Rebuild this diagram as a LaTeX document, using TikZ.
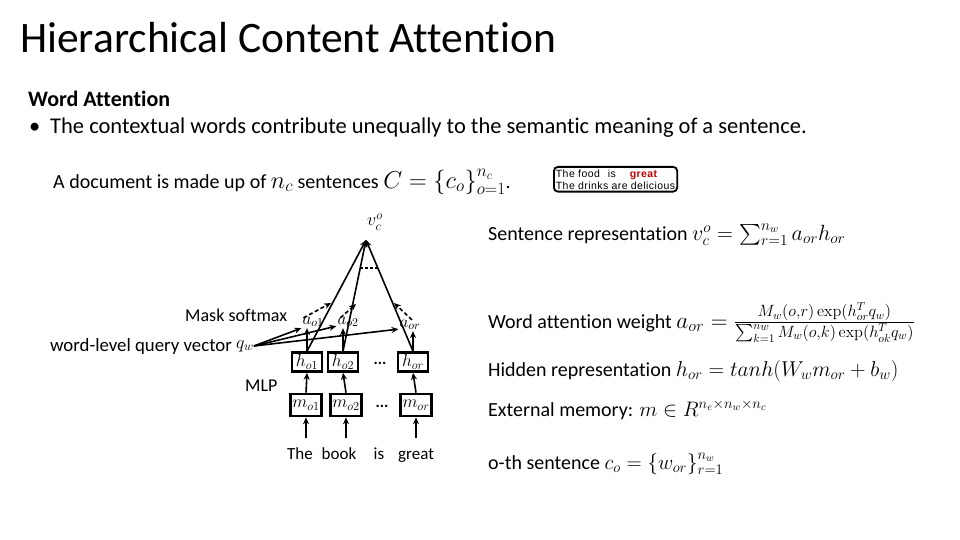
\RequirePackage{fix-cm}
\documentclass[tikz,border=0pt]{standalone}
\usepackage{exscale}
\usepackage[no-math]{fontspec}
\setmainfont{Carlito}[Ligatures=NoCommon]
\newfontfamily\boxfont{Liberation Sans}[LetterSpace=4]
\usetikzlibrary{arrows.meta,calc}
\definecolor{darkred}{HTML}{C00000}
\newcommand\mth[2][23]{{\fontsize{#1}{26}\selectfont$#2$}}
\begin{document}
\begin{tikzpicture}[x=1pt,y=-1pt,
  conn/.style={line width=1.6pt,-{Stealth[length=7pt,width=6pt]}},
  dconn/.style={line width=1.6pt,dash pattern=on 4pt off 2.5pt,-{Stealth[length=7pt,width=6pt]}},
  hbox/.style={draw,line width=2.6pt,minimum width=30pt,minimum height=19pt,inner sep=0pt,font=\fontsize{17.5}{18}\selectfont},
  mbox/.style={draw,line width=2.6pt,minimum width=31pt,minimum height=22pt,inner sep=0pt,font=\fontsize{17.5}{18}\selectfont},
  lbl/.style={font=\fontsize{18}{20}\selectfont,inner sep=0pt,anchor=base west},
  txt/.style={font=\fontsize{20}{24}\selectfont,anchor=base west,inner sep=0pt},
  bigtxt/.style={font=\fontsize{22.5}{26}\selectfont,anchor=base west,inner sep=0pt},
  wordlbl/.style={font=\fontsize{17}{20}\selectfont,inner sep=0pt,anchor=base},
  alab/.style={font=\fontsize{17}{18}\selectfont,inner sep=1pt},
  dotsl/.style={font=\fontsize{16}{18}\selectfont\bfseries,inner sep=0pt}
]
\useasboundingbox[fill=white] (0,0) rectangle (960,540);

% headings
\node[anchor=base west,inner sep=0pt,font=\fontsize{43.5}{48}\selectfont] (title) at (20,53) {Hierarchical Content Attention};
\node[bigtxt,font=\fontsize{22}{26}\selectfont\bfseries] (sub) at (28,107) {Word Attention};
\node[bigtxt] (bul) at (29,134) {\textbullet};
\node[bigtxt] (bultext) at (50,134) {The contextual words contribute unequally to the semantic meaning of a sentence.};
\node[txt] (doc) at (53,188) {A document is made up of \mth[24.5]{n_c} sentences \mth[24.5]{C=\{c_o\}_{o=1}^{n_c}}.};

% example box
\node[draw,line width=1.8pt,rounded corners=4pt,inner xsep=2pt,inner ysep=2.5pt,align=left,anchor=north west,
      font=\boxfont\fontsize{10.5}{12}\selectfont] (ex) at (553,166)
  {The food\hspace{8pt}is\hspace{14pt}{\color{darkred}\bfseries great}\\The drinks are delicious};

% right column formulas
\node[txt] (f1) at (488,240) {Sentence representation \mth[22]{v_c^o=\sum\nolimits_{r=1}^{n_w} a_{or}h_{or}}};
\node[txt] (f2) at (488,328) {Word attention weight \mth[23.3]{a_{or}=\frac{M_w(o,r)\exp(h_{or}^T q_w)}{\sum_{k=1}^{n_w} M_w(o,k)\exp(h_{ok}^T q_w)}}};
\node[txt] (f3) at (488,376) {Hidden representation \mth[21.5]{h_{or}=tanh(W_w m_{or}+b_w)}};
\node[txt] (f4) at (488,416) {External memory: \mth[21]{m\in R^{n_e\times n_w\times n_c}}};
\node[txt] (f5) at (488,469) {o-th sentence \mth[21]{c_o=\{w_{or}\}_{r=1}^{n_w}}};

% left labels
\node[lbl] (mask) at (185,321) {Mask softmax};
\node[lbl,font=\fontsize{18.8}{20}\selectfont] (qlab) at (50,351) {word-level query vector};
\node[lbl,anchor=west] (q) at (236,346) {$q_w$};
\node[lbl] (mlp) at (245,391) {MLP};

% boxes
\node[hbox] (h1) at (307,362) {$h_{o1}$};
\node[hbox] (h2) at (343,362) {$h_{o2}$};
\node[hbox] (hr) at (413,362) {$h_{or}$};
\node[dotsl] (hd) at (380,363) {...};
\node[mbox] (m1) at (306,405) {$m_{o1}$};
\node[mbox] (m2) at (346,405) {$m_{o2}$};
\node[mbox] (mr) at (416,405) {$m_{or}$};
\node[dotsl] (md) at (382,406) {...};

% words
\node[wordlbl] (w1) at (300,459) {The};
\node[wordlbl] (w2) at (339,459) {book};
\node[wordlbl] (w3) at (379,459) {is};
\node[wordlbl] (w4) at (416,459) {great};
\coordinate (s1) at (306,438);
\coordinate (s2) at (346,438);
\coordinate (s3) at (416,438);

% attention labels
\node[alab] (a1) at (313,322) {$a_{o1}$};
\node[alab] (a2) at (348,322) {$a_{o2}$};
\node[alab] (ar) at (410,325) {$a_{or}$};

% sentence vector
\coordinate (apex) at (366,240);
\node[font=\fontsize{18}{18}\selectfont,inner sep=0pt] (vc) at (375,222) {$v_c^o$};

% connectors
\draw[conn] (s1) -- (m1.south);
\draw[conn] (s2) -- (m2.south);
\draw[conn] (s3) -- (mr.south);
\draw[conn] (m1.north) -- (h1.south);
\draw[conn] (m2.north) -- (h2.south);
\draw[conn] (mr.north) -- (hr.south);
\draw[conn] (h1.north) -- (h1.north |- a1.south);
\draw[conn] (h2.north) -- (h2.north |- a2.south);
\draw[conn] (hr.north) -- (hr.north |- ar.south);
\draw[conn] (h1.north) -- (apex);
\draw[conn] (h2.north) -- (apex);
\draw[conn] (hr.north) -- (apex);
\draw[conn] (q.east) -- (a1.south west);
\draw[conn] (q.east) -- ($(a2.south west)+(0,-2)$);
\draw[conn] (q.east) -- ($(ar.south west)+(0,-2)$);
\coordinate (t1) at (331,303);
\coordinate (t2) at (356,304);
\coordinate (t3) at (394,303);
\draw[dconn] ($(a1.north west)+(2,2)$) -- (t1);
\draw[dconn] ($(a2.north west)+(4,2)$) -- (t2);
\draw[dconn] ($(ar.north)+(2,1)$) -- (t3);
\draw[line width=1.6pt,dash pattern=on 3pt off 2pt] ($(apex)!0.25!(h2.north)$) -- ($(apex)!0.25!(hr.north)$);
\end{tikzpicture}
\end{document}
